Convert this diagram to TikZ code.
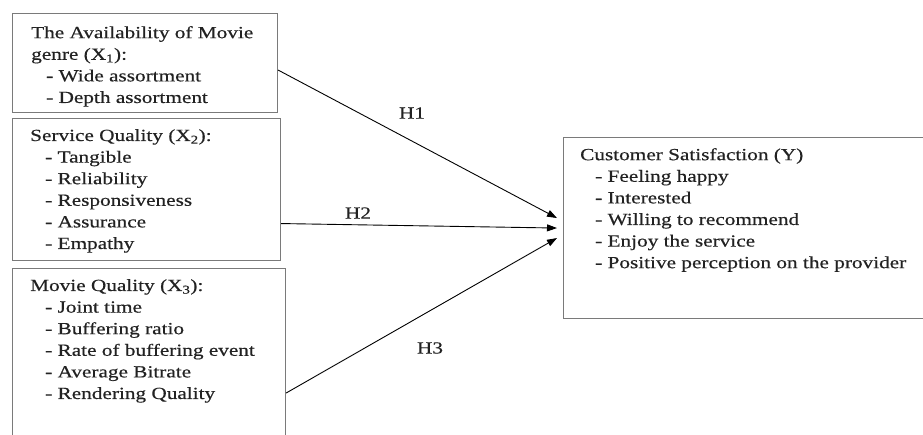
\documentclass[tikz,border=0pt]{standalone}
\usepackage{fontspec}
\setmainfont{Liberation Serif}[FakeStretch=1.25,FakeBold=0.4]
\usetikzlibrary{arrows.meta}
\definecolor{boxgray}{HTML}{7A7A7A}
\definecolor{txtgray}{HTML}{222222}
\begin{document}
\begin{tikzpicture}[x=1pt,y=-1pt,
  boxnode/.style={draw=boxgray,line width=1.1pt,rectangle,inner sep=0pt,anchor=north west},
  txt/.style={anchor=north west,inner sep=0pt,align=left,text=txtgray,font=\fontsize{17}{21.6}\selectfont},
  hlab/.style={inner sep=0pt,text=txtgray,font=\fontsize{17}{20}\selectfont},
  arr/.style={line width=0.9pt,-{Triangle[length=10pt,width=7pt]}}]
\useasboundingbox (0,0) rectangle (923,435);
\fill[white] (0,0) rectangle (923,435);
% boxes
\node[boxnode,minimum width=265pt,minimum height=99pt] (b1) at (12,13) {};
\node[boxnode,minimum width=268pt,minimum height=142pt] (b2) at (12,118) {};
\node[boxnode,minimum width=273pt,minimum height=175pt] (b3) at (12,268) {};
\node[boxnode,minimum width=380pt,minimum height=181pt] (y) at (563,137) {};
% texts
\node[txt] (t1) at (31,26) {The Availability of Movie\\genre (X\textsubscript{1}):\\\hspace*{15pt}- Wide assortment\\\hspace*{15pt}- Depth assortment};
\node[txt] (t2) at (30,129) {Service Quality (X\textsubscript{2}):\\\hspace*{15pt}- Tangible\\\hspace*{15pt}- Reliability\\\hspace*{15pt}- Responsiveness\\\hspace*{15pt}- Assurance\\\hspace*{15pt}- Empathy};
\node[txt] (t3) at (30,279) {Movie Quality (X\textsubscript{3}):\\\hspace*{15pt}- Joint time\\\hspace*{15pt}- Buffering ratio\\\hspace*{15pt}- Rate of buffering event\\\hspace*{15pt}- Average Bitrate\\\hspace*{15pt}- Rendering Quality};
\node[txt] (ty) at (580,148) {Customer Satisfaction (Y)\\\hspace*{15pt}- Feeling happy\\\hspace*{15pt}- Interested\\\hspace*{15pt}- Willing to recommend\\\hspace*{15pt}- Enjoy the service\\\hspace*{15pt}- Positive perception on the provider};
% arrows
\draw[arr] ([yshift=-7pt]b1.east) -- ([xshift=-6pt,yshift=10pt]y.west);
\draw[arr] ([yshift=-34pt]b2.east) -- ([xshift=-6pt]y.west);
\draw[arr] ([yshift=-37pt]b3.east) -- ([xshift=-6pt,yshift=-10pt]y.west);
% labels
\node[hlab] (h1) at (412,113) {H1};
\node[hlab] (h2) at (358,213) {H2};
\node[hlab] (h3) at (430,348) {H3};
\end{tikzpicture}
\end{document}
